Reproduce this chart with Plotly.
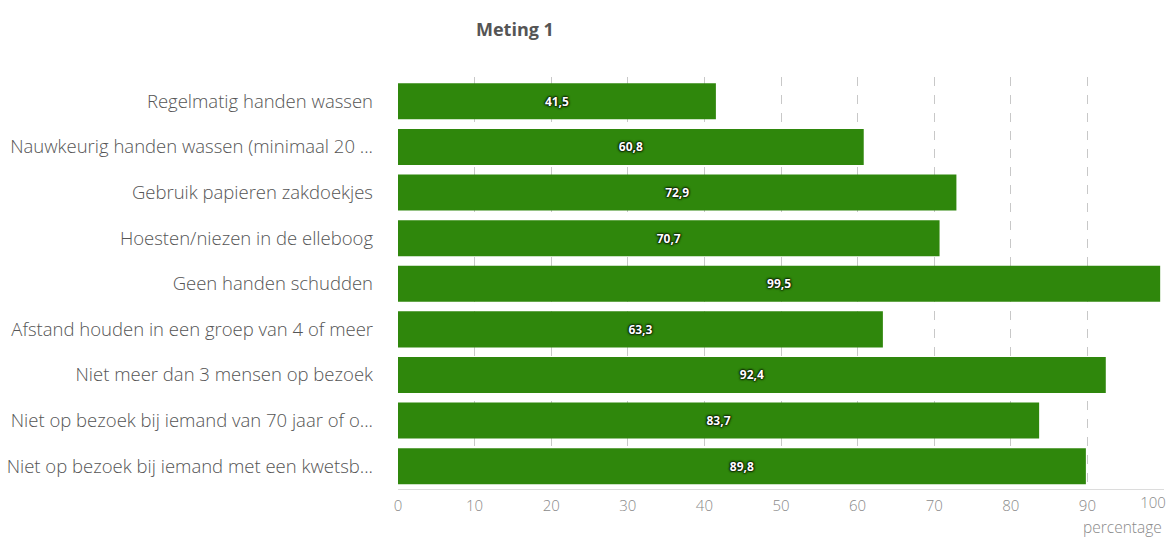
import plotly.graph_objects as go

categories = [
    "Regelmatig handen wassen",
    "Nauwkeurig handen wassen (minimaal 20 ...",
    "Gebruik papieren zakdoekjes",
    "Hoesten/niezen in de elleboog",
    "Geen handen schudden",
    "Afstand houden in een groep van 4 of meer",
    "Niet meer dan 3 mensen op bezoek",
    "Niet op bezoek bij iemand van 70 jaar of o...",
    "Niet op bezoek bij iemand met een kwetsb...",
]
values = [41.5, 60.8, 72.9, 70.7, 99.5, 63.3, 92.4, 83.7, 89.8]
labels = [f"{v:.1f}".replace(".", ",") for v in values]
x_ticks = [0, 10, 20, 30, 40, 50, 60, 70, 80, 90]
x_last_tick = [100]

fig = go.Figure(go.Bar(
    y=categories,
    x=values,
    orientation="h",
    marker=dict(color="#2f870c", line=dict(width=0)),
    text=labels,
    textposition="inside",
    insidetextanchor="middle",
    textangle=0,
    textfont=dict(family="Open Sans", size=12, color="white", weight="bold",
                  shadow="0 0 2px #000, 0 0 2px #000, 0 0 3px #000"),
))
# invisible helper trace so the secondary axis (last tick label) is drawn
fig.add_trace(go.Scatter(
    x=x_last_tick, y=[categories[0]], xaxis="x2", mode="markers",
    marker=dict(opacity=0), hoverinfo="skip", showlegend=False,
))

fig.update_layout(
    width=1169, height=537,
    margin=dict(l=398, r=5, t=77, b=48, autoexpand=False),
    paper_bgcolor="white", plot_bgcolor="white",
    bargap=0.21,
    showlegend=False,
    font=dict(family="Open Sans", color="#555"),
    xaxis2=dict(
        overlaying="x", anchor="y", side="bottom", range=[0, 100],
        tickvals=x_last_tick, ticklabelshift=-11,
        tickfont=dict(size=15, color="#8a8a8a", weight=300),
        showgrid=False, zeroline=False, showline=False,
        ticklabelstandoff=3, automargin=False,
    ),
)
fig.layout.xaxis.update(
    range=[0, 100],
    tickvals=x_ticks + x_last_tick,
    ticktext=[str(t) for t in x_ticks] + [""],
    tickfont=dict(size=15, color="#8a8a8a", weight=300),
    showgrid=True, gridcolor="#c8c8c8", griddash="dash", gridwidth=1,
    zeroline=False, showline=True, linecolor="#dcdcdc", linewidth=1,
    ticklabelstandoff=3,
    automargin=False,
)
fig.update_yaxes(
    autorange="reversed",
    tickfont=dict(size=18.5, color="#555", weight=300),
    showgrid=False, ticklabelstandoff=24,
    showline=False,
    automargin=False,
)
fig.add_annotation(
    text="<b>Meting 1</b>", xref="paper", yref="paper",
    x=(474 - 398) / 766, y=1, yshift=48, xanchor="left", yanchor="middle",
    showarrow=False, font=dict(size=18, color="#555", family="Open Sans"),
)
fig.add_annotation(
    text="percentage", xref="paper", yref="paper",
    x=1, xshift=0, y=0, yshift=-38, xanchor="right", yanchor="middle",
    showarrow=False, font=dict(size=15.5, color="#8a8a8a", family="Open Sans", weight=300),
)

fig.write_html("out.html", config={"displayModeBar": False},
               post_script="document.body.style.margin='0';")
